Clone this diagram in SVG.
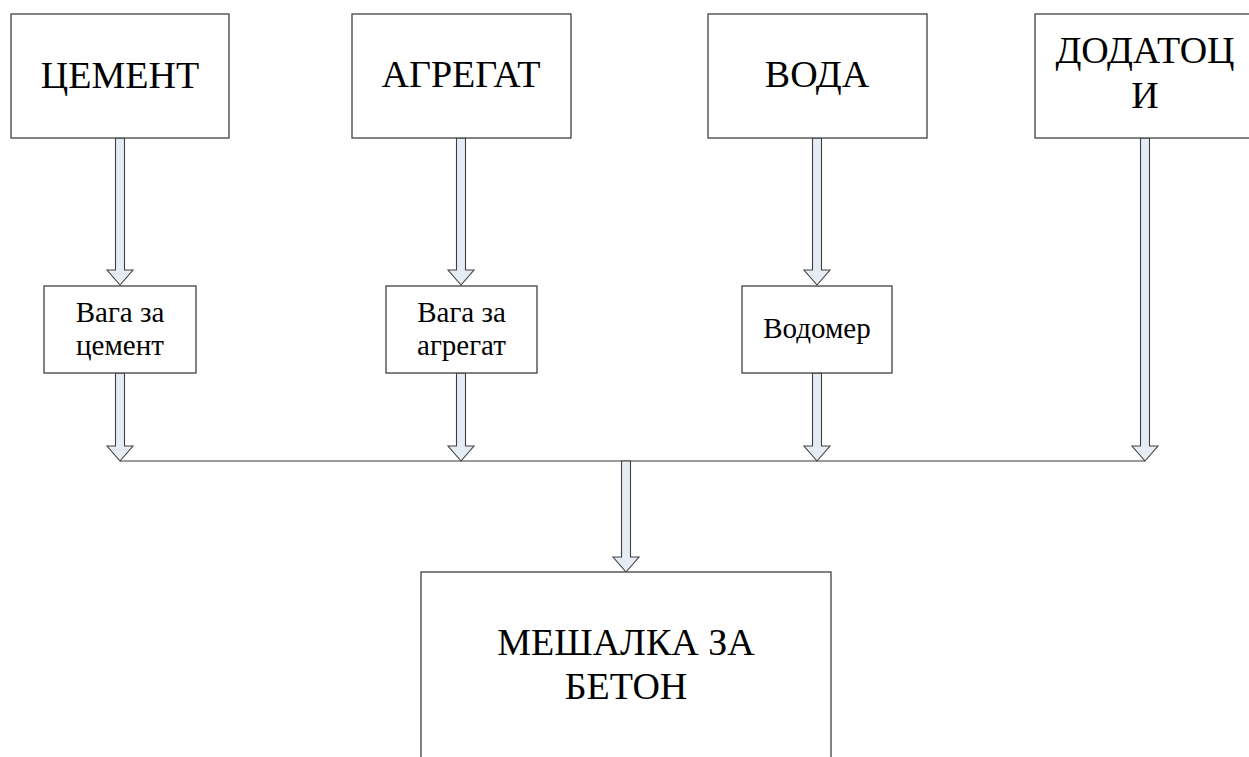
<svg xmlns="http://www.w3.org/2000/svg" width="1249" height="757" viewBox="0 0 1249 757">
<style>
.box{fill:#fff;stroke:#404040;stroke-width:1.3}
.big{font-family:"Liberation Serif","DejaVu Serif",serif;font-size:38px;fill:#000;text-anchor:middle}
.small{font-family:"Liberation Serif","DejaVu Serif",serif;font-size:29px;fill:#000;text-anchor:middle}
.arrow{fill:#E5ECF6;stroke:#404040;stroke-width:1.1;stroke-linejoin:miter}
.bus{fill:none;stroke:#7a7a7a;stroke-width:1.6}
</style>
<rect width="1249" height="757" fill="#fff"/>
<g id="connectors">
<line class="bus" x1="120" y1="461" x2="1145" y2="461"/>
<polygon class="arrow" points="115.5,138 124.5,138 124.5,270 133,270 120,285 107,270 115.5,270"/>
<polygon class="arrow" points="456.5,138 465.5,138 465.5,270 474,270 461,285 448,270 456.5,270"/>
<polygon class="arrow" points="812.5,138 821.5,138 821.5,270 830,270 817,285 804,270 812.5,270"/>
<polygon class="arrow" points="1140.5,138 1149.5,138 1149.5,446 1158,446 1145,461 1132,446 1140.5,446"/>
<polygon class="arrow" points="115.5,373 124.5,373 124.5,446 133,446 120,461 107,446 115.5,446"/>
<polygon class="arrow" points="456.5,373 465.5,373 465.5,446 474,446 461,461 448,446 456.5,446"/>
<polygon class="arrow" points="812.5,373 821.5,373 821.5,446 830,446 817,461 804,446 812.5,446"/>
<polygon class="arrow" points="621.5,461 630.5,461 630.5,557 639,557 626,572 613,557 621.5,557"/>
</g>
<g id="cement">
<rect class="box" x="11" y="14" width="218" height="124"/>
<text class="big" x="120" y="88">ЦЕМЕНТ</text>
</g>
<g id="agregat">
<rect class="box" x="352" y="14" width="219" height="124"/>
<text class="big" x="461" y="87">АГРЕГАТ</text>
</g>
<g id="voda">
<rect class="box" x="708" y="14" width="219" height="124"/>
<text class="big" x="817" y="87">ВОДА</text>
</g>
<g id="dodatoci">
<rect class="box" x="1035" y="14" width="220" height="124"/>
<text class="big" x="1145" y="63">ДОДАТОЦ</text>
<text class="big" x="1145" y="108">И</text>
</g>
<g id="vaga-cement">
<rect class="box" x="44" y="286" width="152" height="87"/>
<text class="small" x="120" y="322">Вага за</text>
<text class="small" x="120" y="355">цемент</text>
</g>
<g id="vaga-agregat">
<rect class="box" x="386" y="286" width="151" height="87"/>
<text class="small" x="461.5" y="322">Вага за</text>
<text class="small" x="461.5" y="355">агрегат</text>
</g>
<g id="vodomer">
<rect class="box" x="742" y="286" width="150" height="87"/>
<text class="small" x="817" y="338">Водомер</text>
</g>
<g id="meshalka">
<rect class="box" x="421" y="572" width="410" height="200"/>
<text class="big" x="626" y="655">МЕШАЛКА ЗА</text>
<text class="big" x="626" y="699">БЕТОН</text>
</g>
</svg>
